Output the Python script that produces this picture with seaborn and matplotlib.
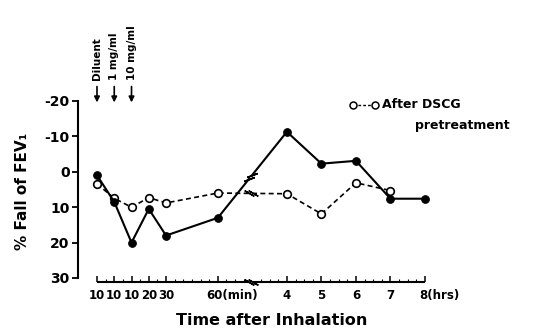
import numpy as np
import pandas as pd
import matplotlib
matplotlib.use("Agg")
import matplotlib.pyplot as plt
import matplotlib.transforms as mtransforms
import seaborn as sns

# Time axis: three 10-min dose steps, then 20, 30, 60 min, then hours 4-8
positions = [0, 1, 2, 3, 4, 7, 11, 13, 15, 17, 19]
tick_labels = ["10", "10", "10", "20", "30", "60(min)", "4", "5", "6", "7", "8(hrs)"]
# % fall of FEV1 (negative = rise)
baseline = [1.0, 8.5, 20.0, 10.5, 18.0, 13.0, -11.3, -2.3, -3.1, 7.6, 7.6]
after_dscg = [3.4, 7.5, 10.0, 7.3, 8.8, 6.0, 6.2, 11.9, 3.1, 5.3, np.nan]
dose_labels = ["Diluent", "1 mg/ml", "10 mg/ml"]
y_ticks = [-20, -10, 0, 10, 20, 30]
break_x = 8.9

sns.set_style("ticks")
plt.rcParams["font.family"] = ["DejaVu Sans"]
plt.rcParams["font.weight"] = "bold"
plt.rcParams["axes.unicode_minus"] = False
for key in ["text.color", "axes.labelcolor", "xtick.color", "ytick.color",
            "axes.edgecolor"]:
    plt.rcParams[key] = "black"

df = pd.DataFrame({"t": positions, "baseline": baseline, "dscg": after_dscg})

fig = plt.figure(figsize=(5.34, 3.34), dpi=100)
ax = fig.add_axes([78 / 534, 1 - 282 / 334, (532 - 78) / 534, (282 - 101) / 334])

sns.lineplot(data=df.dropna(), x="t", y="dscg", ax=ax, color="black", lw=1.2,
             linestyle=(0, (3, 2)), marker="o", markersize=5.5,
             markerfacecolor="white", markeredgecolor="black",
             markeredgewidth=1.2, zorder=3)
sns.lineplot(data=df, x="t", y="baseline", ax=ax, color="black", lw=1.5,
             marker="o", markersize=5.5, markerfacecolor="black",
             markeredgecolor="black", zorder=4)

ax.set_xlim(-1.1, 25.2)
ax.set_ylim(31.13, -20)

# y axis
ax.spines["left"].set_bounds(-20, 30)
ax.spines["left"].set_linewidth(1.5)
ax.set_yticks(y_ticks)
ax.set_yticklabels([str(v) for v in y_ticks], fontsize=10, fontweight="bold")
ax.tick_params(axis="y", direction="out", length=4, width=1.3, pad=2)
for s in ["top", "right", "bottom"]:
    ax.spines[s].set_visible(False)

# broken time axis drawn as a ruler
ybot = ax.get_ylim()[0]
for seg in [(positions[0], break_x - 0.12), (break_x + 0.12, positions[-1])]:
    ax.plot(seg, [ybot, ybot], color="black", lw=1.5, clip_on=False,
            solid_capstyle="butt")
ax.set_xticks(positions)
ax.set_xticklabels(tick_labels, fontsize=8.5, fontweight="bold")
ax.set_xticks([v for v in np.arange(0, 19.01, 0.5)
               if abs(v - break_x) > 0.3], minor=True)
ax.tick_params(axis="x", which="major", direction="in", length=4, width=1.1, pad=5)
ax.tick_params(axis="x", which="minor", direction="in", length=2, width=0.8)
for lab in ax.get_xticklabels():
    txt = lab.get_text()
    if "(" in txt:
        num = txt.split("(")[0]
        lab.set_horizontalalignment("left")
        shift = -4.1 * len(num) / 72
        lab.set_transform(lab.get_transform() +
                          mtransforms.ScaledTranslation(shift, 0, fig.dpi_scale_trans))

# break marks on axis and both curves
fig.canvas.draw()
def break_mark(y, slope_data, lw):
    p0 = ax.transData.transform((break_x - 0.5, y - 0.5 * slope_data))
    p1 = ax.transData.transform((break_x + 0.5, y + 0.5 * slope_data))
    ang = np.degrees(np.arctan2(p1[1] - p0[1], p1[0] - p0[0]))
    dx, dy = np.cos(np.radians(ang)), np.sin(np.radians(ang))
    c = ax.transData.transform((break_x, y))
    for off in (-2.0, 2.0):
        cx, cy = c[0] + off * dx, c[1] + off * dy
        m = ax.transData.inverted().transform((cx, cy))
        ax.plot(m[0], m[1], marker=(2, 2, ang + 90 - 30), markersize=8,
                markeredgewidth=lw, color="black", clip_on=False, zorder=6)
    g0 = ax.transData.inverted().transform((c[0] - 1.6 * dx, c[1] - 1.6 * dy))
    g1 = ax.transData.inverted().transform((c[0] + 1.6 * dx, c[1] + 1.6 * dy))
    ax.plot([g0[0], g1[0]], [g0[1], g1[1]], color="white", lw=3, zorder=5,
            clip_on=False, solid_capstyle="butt")

i0, i1 = positions.index(7), positions.index(11)
for series, lw in [(baseline, 1.2), (after_dscg, 1.0)]:
    yb = np.interp(break_x, [positions[i0], positions[i1]], [series[i0], series[i1]])
    slope = (series[i1] - series[i0]) / (positions[i1] - positions[i0])
    break_mark(yb, slope, lw)
break_mark(ybot, 0.0, 1.1)

# dose arrows
for x, lab in zip(positions[:3], dose_labels):
    ax.annotate(lab, xy=(x, -19.6), xytext=(x, -25.8), textcoords="data",
                rotation=90, ha="center", va="bottom", fontsize=7.5,
                fontweight="bold", annotation_clip=False,
                arrowprops=dict(arrowstyle="-|>", color="black", lw=1.2,
                                shrinkA=2, shrinkB=0, mutation_scale=8))

# key for the pretreatment curve
ax.plot([0.606, 0.654], [0.978, 0.978], transform=ax.transAxes, color="black",
        lw=1.0, linestyle=(0, (2, 1.5)), marker="o", markersize=5,
        markerfacecolor="white", markeredgewidth=1.1, clip_on=False)
ax.text(0.670, 0.978, "After DSCG", transform=ax.transAxes, fontsize=9,
        fontweight="bold", va="center", ha="left")
ax.text(0.742, 0.865, "pretreatment", transform=ax.transAxes, fontsize=9,
        fontweight="bold", va="center", ha="left")

ax.set_xlabel("Time after Inhalation", fontsize=11.5, fontweight="bold", va="center")
ax.xaxis.set_label_coords(0.427, -0.21)
ax.set_ylabel("% Fall of FEV\u2081", fontsize=11, fontweight="bold", va="center")
ax.yaxis.set_label_coords(-0.123, 0.5)

fig.savefig("out.png", dpi=100, facecolor="white")
